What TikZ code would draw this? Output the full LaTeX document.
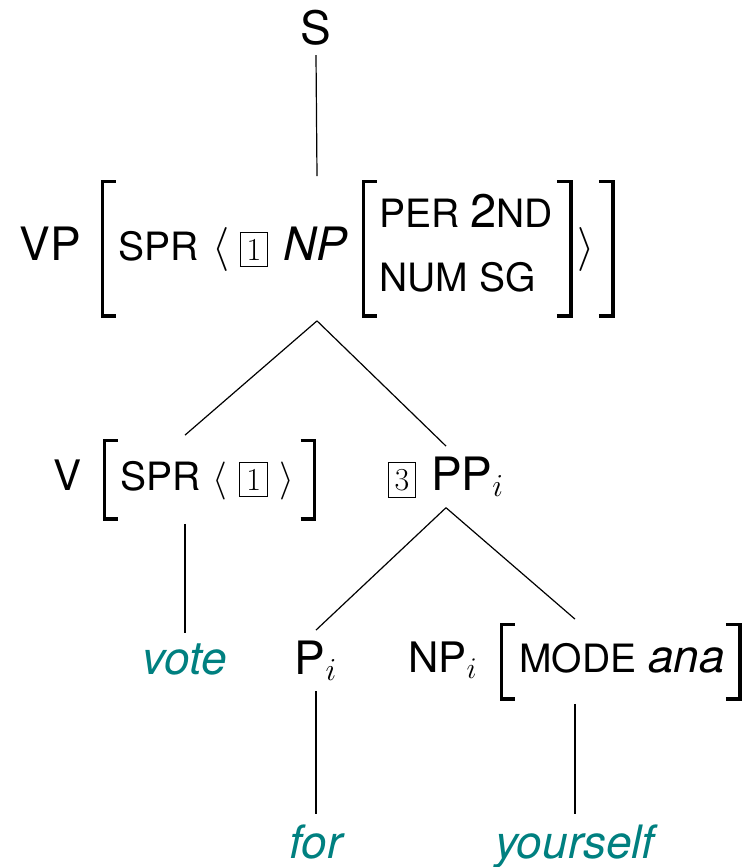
\RequirePackage{fix-cm}
\documentclass[tikz,border=0pt]{standalone}
\usepackage{fontspec}
\setsansfont{TeX Gyre Heros}
\usepackage{tikz}
\definecolor{wordteal}{HTML}{008080}
\DeclareMathSizes{23}{23}{16}{11}
\DeclareMathSizes{21}{21}{15}{10}

% square brackets of the feature structures
\newlength\brkw \setlength\brkw{1.9pt}
\newlength\brkhook \setlength\brkhook{6pt}
\newcommand\lbrk[1]{\ensuremath{\vcenter{\hbox{\vrule width\brkw height#1 depth#1\lower#1\vbox to\dimexpr#1*2\relax{\hrule width\brkhook height\brkw\vfill\hrule width\brkhook height\brkw}}}}}
\newcommand\rbrk[1]{\ensuremath{\vcenter{\hbox{\lower#1\vbox to\dimexpr#1*2\relax{\hrule width\brkhook height\brkw\vfill\hrule width\brkhook height\brkw}\vrule width\brkw height#1 depth#1}}}}
\newcommand\feat[1]{{\fontsize{19.5}{22}\selectfont #1}}
\newcommand\tagbox[1]{{\fboxsep=3pt\fbox{\fontsize{16}{16}\selectfont\rmfamily #1}}}
\newcommand\lang[1]{{\fontsize{#1}{#1}\selectfont$\langle$}}
\newcommand\rang[1]{{\fontsize{#1}{#1}\selectfont$\rangle$}}

\begin{document}
\begin{tikzpicture}[x=0.5pt, y=-0.5pt,
  tnode/.style={font=\sffamily\fontsize{23}{26}\selectfont, inner sep=5pt, anchor=base},
  avm/.style={tnode, inner xsep=0pt, inner ysep=1.5pt},
  word/.style={tnode, font=\sffamily\itshape\fontsize{23}{26}\selectfont, text=wordteal},
  branch/.style={line width=0.6pt}]
\useasboundingbox (0,0) rectangle (744,867);

\node[tnode] (s) at (316,44) {S};
\node[avm] (vp) at (317,260) {VP\hspace{10pt}\lbrk{34.5pt}\hspace{1pt}%
\feat{SPR}\hspace{7pt}\lang{22}\hspace{5pt}\tagbox{1}\hspace{7.5pt}\textit{NP}\hspace{7pt}%
\lbrk{34.5pt}\hspace{1pt}%
\raisebox{1.8pt}{\fontsize{19.5}{32}\selectfont\begin{tabular}{@{}l@{}}PER {\fontsize{23.5}{32}\selectfont 2}ND\\NUM SG\end{tabular}}%
\hspace{2pt}\rbrk{34.5pt}\hspace{2.5pt}\rang{22}\hspace{2pt}\rbrk{34.5pt}};

\node[avm, font=\sffamily\fontsize{21}{24}\selectfont] (v) at (185,490) {V\hspace{10.5pt}\lbrk{20.5pt}\hspace{1pt}%
\feat{SPR}\hspace{6pt}\lang{19}\hspace{6pt}\tagbox{1}\hspace{6pt}\rang{19}\hspace{3pt}\rbrk{20.5pt}};
\node[tnode] (pp) at (446,490) {\tagbox{3}\hspace{7.5pt}PP$_i$};

\node[word] (vote) at (185,674) {vote};
\node[tnode] (p) at (316,674) {P$_i$};
\node[avm, font=\sffamily\fontsize{21}{24}\selectfont] (np) at (575,672) {NP$_i$\hspace{11pt}\lbrk{19.5pt}\hspace{2pt}%
\feat{MODE} {\fontsize{23}{26}\selectfont\itshape ana}\hspace{0.5pt}\rbrk{19.5pt}};

\node[word] (for) at (316,858) {for};
\node[word] (yourself) at (575,858) {yourself};

\foreach \a/\b in {s/vp, vp/v, vp/pp, v/vote, pp/p, pp/np, p/for, np/yourself}
  \draw[branch] (\a.south) -- (\b.north);
\end{tikzpicture}
\end{document}
